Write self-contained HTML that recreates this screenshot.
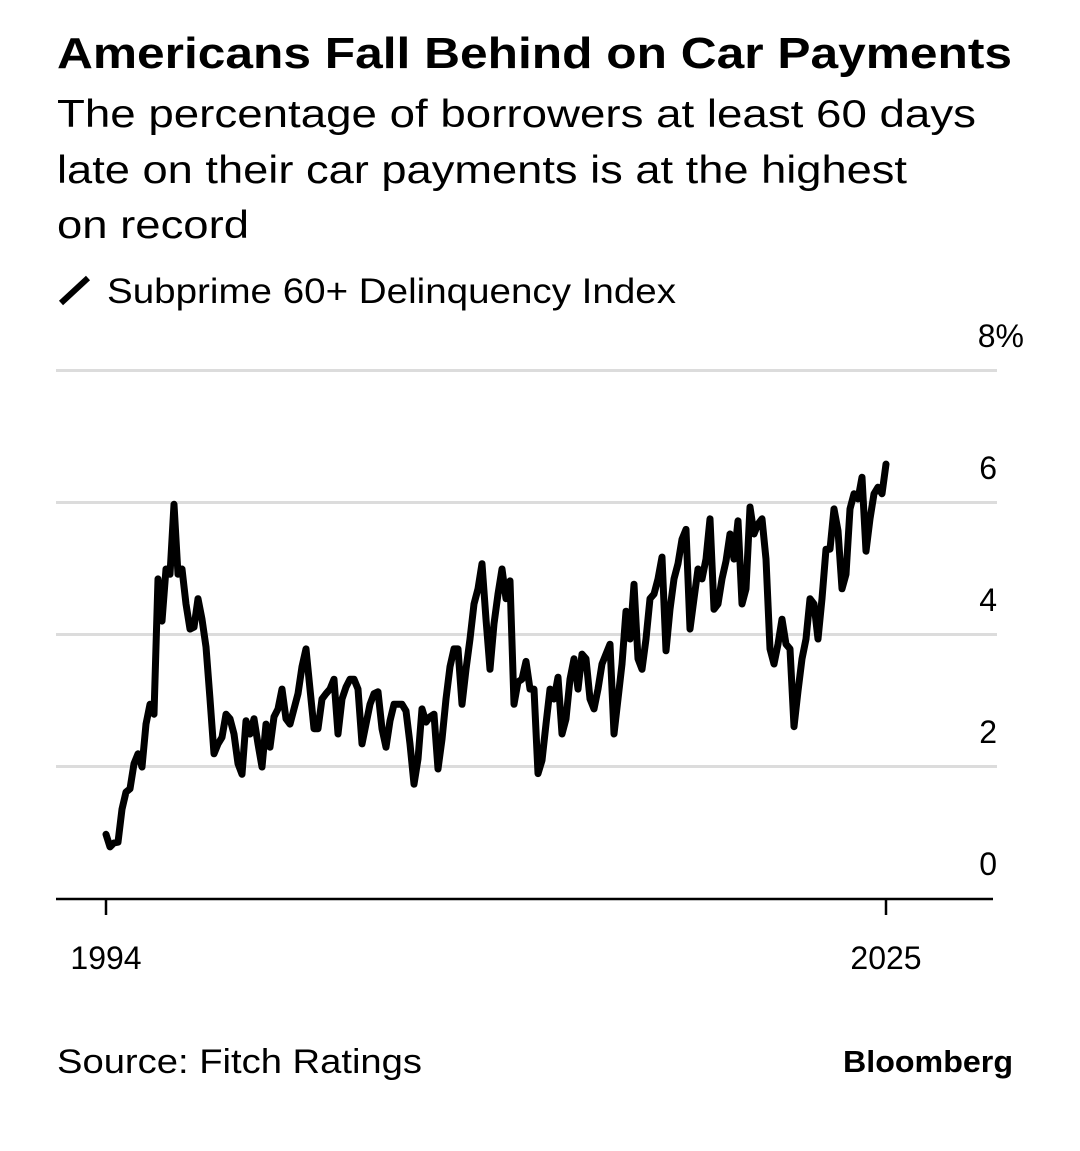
<!DOCTYPE html>
<html><head><meta charset="utf-8"><style>
html,body{margin:0;padding:0;background:#fff;}
svg{display:block;font-family:"Liberation Sans",Arial,sans-serif;}
</style></head><body>
<svg id="chart" width="1080" height="1151" viewBox="0 0 1080 1151">
<text x="57" y="68" font-size="44" font-weight="bold" textLength="955" lengthAdjust="spacingAndGlyphs">Americans Fall Behind on Car Payments</text>
<g font-size="39">
<text x="57" y="127" textLength="919" lengthAdjust="spacingAndGlyphs">The percentage of borrowers at least 60 days</text>
<text x="57" y="183" textLength="850" lengthAdjust="spacingAndGlyphs">late on their car payments is at the highest</text>
<text x="57" y="238" textLength="192" lengthAdjust="spacingAndGlyphs">on record</text>
</g>
<g>
<line x1="61" y1="303" x2="88" y2="278" stroke="#000" stroke-width="6"/>
<text x="107" y="303" font-size="35" textLength="569" lengthAdjust="spacingAndGlyphs">Subprime 60+ Delinquency Index</text>
</g>
<g id="grid"></g>
<g id="yticks"></g>
<line x1="56" y1="899" x2="993" y2="899" stroke="#000" stroke-width="2.5"/>
<g id="xticks"></g>
<path id="line" fill="none" stroke="#000" stroke-width="7" stroke-linejoin="round" stroke-linecap="round"/>
<text x="57" y="1073" font-size="34" textLength="365" lengthAdjust="spacingAndGlyphs">Source: Fitch Ratings</text>
<text x="1013" y="1072" font-size="31" font-weight="bold" text-anchor="end" textLength="170" lengthAdjust="spacingAndGlyphs">Bloomberg</text>
</svg>
<script>
const startYear = 1994, endYear = 2025;
const values = [0.98,0.79,0.85,0.86,1.36,1.62,1.67,2.05,2.2,2.0,2.65,2.95,2.8,4.85,4.21,5.0,4.92,5.98,4.92,5.0,4.47,4.09,4.12,4.55,4.24,3.82,3.03,2.2,2.35,2.45,2.8,2.73,2.5,2.05,1.89,2.7,2.5,2.73,2.35,2.0,2.65,2.3,2.76,2.88,3.18,2.73,2.65,2.88,3.11,3.52,3.79,3.18,2.58,2.58,3.03,3.11,3.18,3.33,2.5,3.03,3.21,3.33,3.33,3.18,2.35,2.65,2.95,3.11,3.14,2.58,2.3,2.7,2.95,2.95,2.95,2.85,2.35,1.74,2.12,2.88,2.68,2.76,2.8,1.97,2.42,3.03,3.52,3.79,3.79,2.95,3.48,3.94,4.47,4.7,5.08,4.24,3.48,4.17,4.62,5.0,4.55,4.82,2.95,3.29,3.33,3.6,3.18,3.18,1.9,2.1,2.65,3.18,3.03,3.36,2.5,2.73,3.33,3.64,3.18,3.71,3.64,3.03,2.88,3.18,3.56,3.71,3.86,2.5,3.03,3.56,4.36,3.94,4.77,3.64,3.48,3.94,4.55,4.62,4.85,5.18,3.76,4.39,4.85,5.08,5.45,5.6,4.09,4.55,5.0,4.85,5.15,5.76,4.39,4.47,4.85,5.12,5.53,5.15,5.73,4.47,4.7,5.94,5.53,5.68,5.76,5.15,3.79,3.56,3.86,4.24,3.86,3.79,2.61,3.15,3.64,3.94,4.55,4.47,3.94,4.55,5.3,5.3,5.91,5.58,4.7,4.92,5.91,6.14,6.06,6.39,5.27,5.76,6.14,6.24,6.14,6.59];
const yTicks = [0,2,4,6,8];
const yTickLabels = ["0","2","4","6","8%"];
const xTicks = [1994,2025];
const xTickLabels = ["1994","2025"];

const NS = "http://www.w3.org/2000/svg";
const x = yr => 106 + (yr - 1994) * (780 / 31);
const y = v => 899 - v * 66;

const grid = document.getElementById('grid');
const yt = document.getElementById('yticks');
yTicks.forEach((v, i) => {
  if (v > 0) {
    const l = document.createElementNS(NS, 'line');
    
    
    l.setAttribute('x1', 56); l.setAttribute('x2', 997);
    l.setAttribute('y1', y(v) - 0.5); l.setAttribute('y2', y(v) - 0.5);
    l.setAttribute('stroke', '#dcdcdc'); l.setAttribute('stroke-width', 3);
    grid.appendChild(l);
  }
  const t = document.createElementNS(NS, 'text');
  
  
  t.setAttribute('x', v === 8 ? 1024 : 997);
  t.setAttribute('text-anchor', 'end');
  t.setAttribute('y', y(v) - 24);
  t.setAttribute('font-size', 32);
  t.textContent = yTickLabels[i];
  yt.appendChild(t);
});

const xt = document.getElementById('xticks');
xTicks.forEach((yr, i) => {
  const l = document.createElementNS(NS, 'line');
  
  
  l.setAttribute('x1', x(yr)); l.setAttribute('x2', x(yr));
  l.setAttribute('y1', 899); l.setAttribute('y2', 915);
  l.setAttribute('stroke', '#000'); l.setAttribute('stroke-width', 2.5);
  xt.appendChild(l);
  const t = document.createElementNS(NS, 'text');
  
  
  t.setAttribute('x', x(yr));
  t.setAttribute('y', 969);
  t.setAttribute('text-anchor', 'middle');
  t.setAttribute('font-size', 32);
  t.textContent = xTickLabels[i];
  xt.appendChild(t);
});

const n = values.length;
let d = '';
values.forEach((v, i) => {
  const yr = startYear + (endYear - startYear) * i / (n - 1);
  d += (i ? 'L' : 'M') + x(yr).toFixed(1) + ' ' + y(v).toFixed(1);
});
document.getElementById('line').setAttribute('d', d);
</script>
</body></html>
